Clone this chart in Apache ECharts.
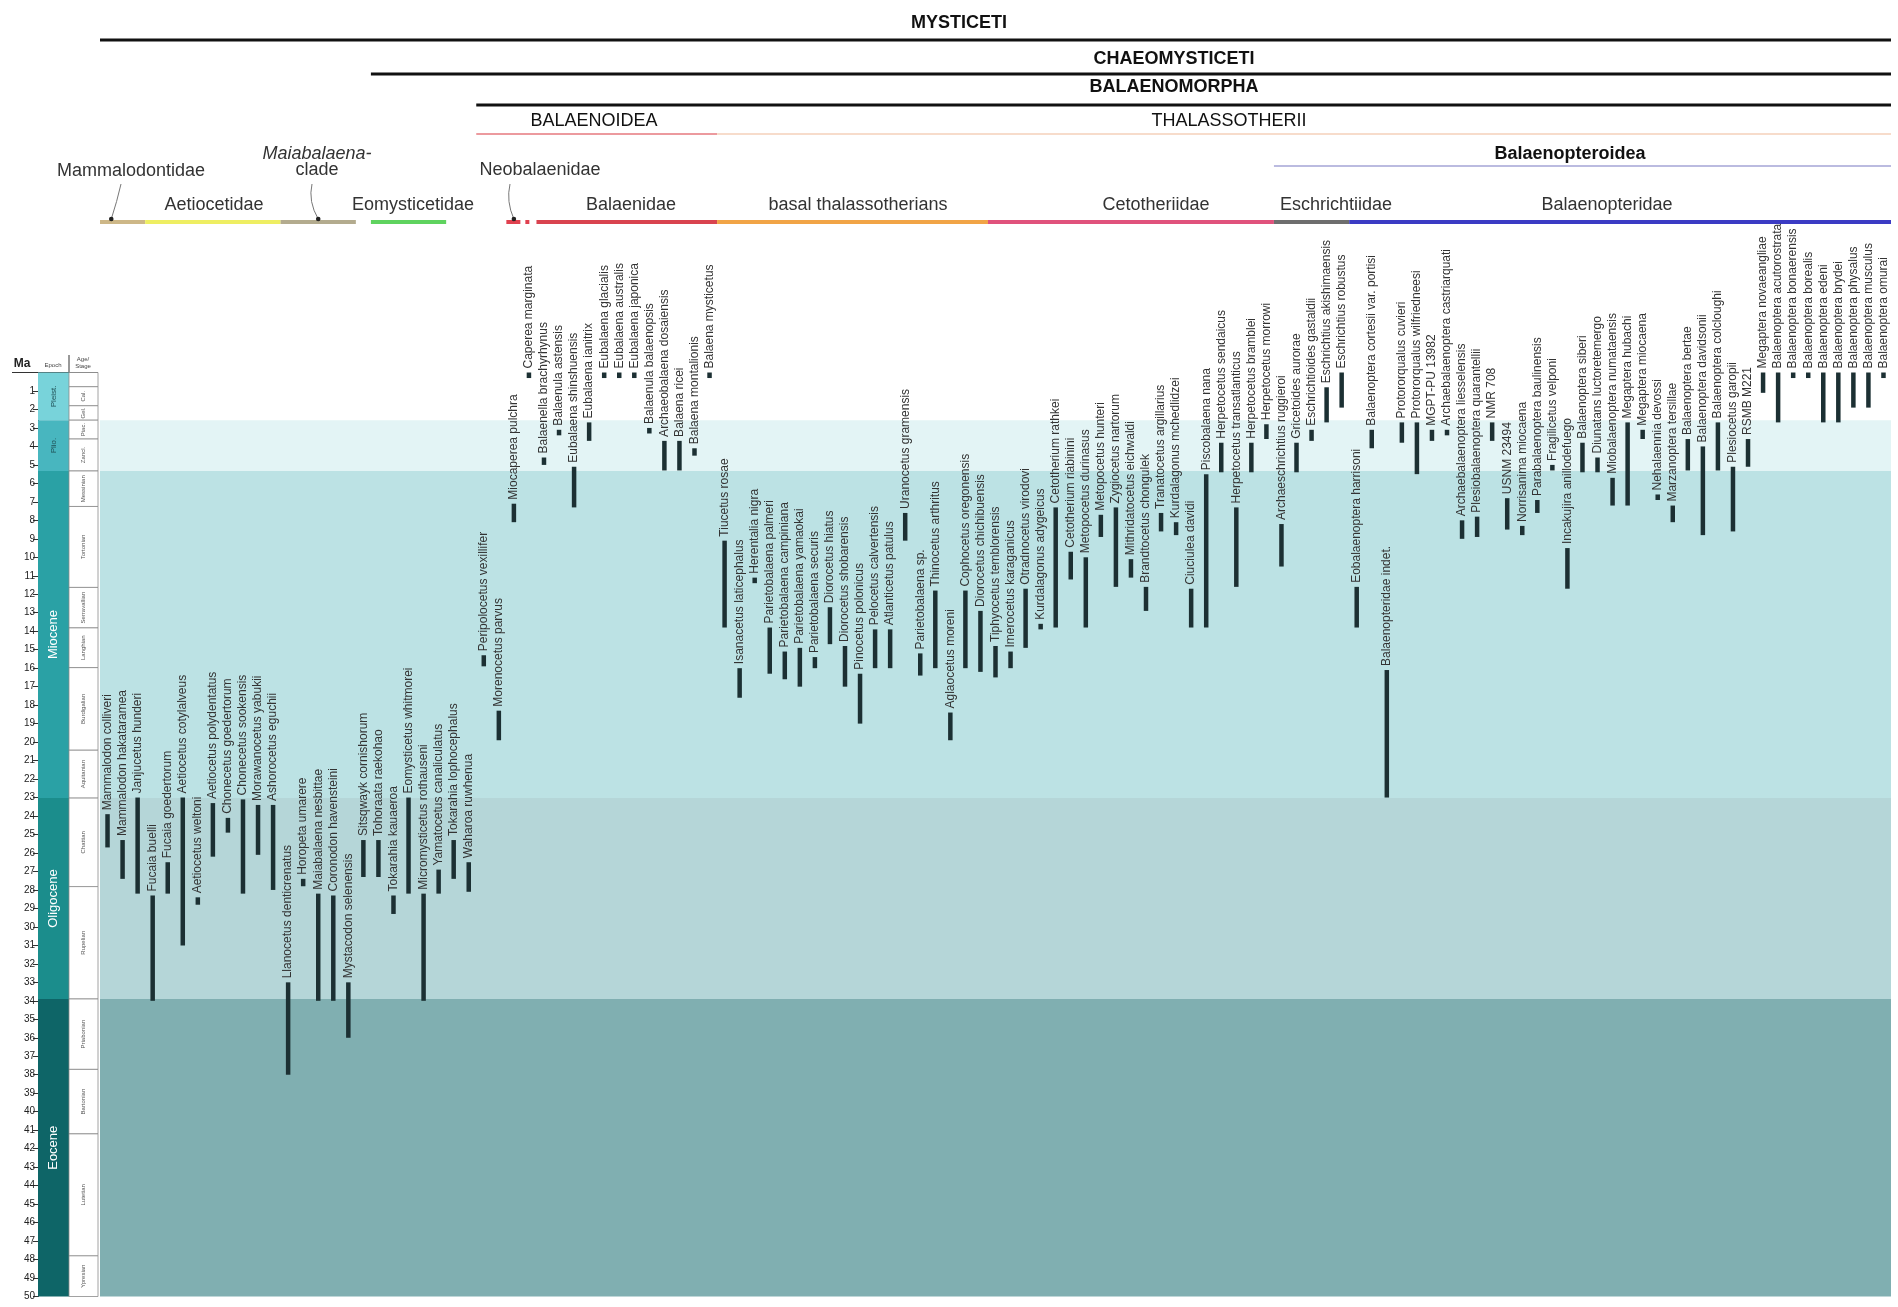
<!DOCTYPE html>
<html>
<head>
<meta charset="utf-8">
<script src="https://cdn.jsdelivr.net/npm/echarts@6/dist/echarts.min.js"></script>
<style>
html,body{margin:0;padding:0;background:#fff;}
#chart{width:1898px;height:1307px;}
</style>
</head>
<body>
<div id="chart"></div>
<script>
// ---- Taxa and their stratigraphic ranges (Ma) ----
const taxa = [
'Mammalodon colliveri','Mammalodon hakataramea','Janjucetus hunderi','Fucaia buelli','Fucaia goedertorum',
'Aetiocetus cotylalveus','Aetiocetus weltoni','Aetiocetus polydentatus','Chonecetus goedertorum','Chonecetus sookensis',
'Morawanocetus yabukii','Ashorocetus eguchii','Llanocetus denticrenatus','Horopeta umarere','Maiabalaena nesbittae',
'Coronodon havensteini','Mystacodon selenensis','Sitsqwayk cornishorum','Tohoraata raekohao','Tokarahia kauaeroa',
'Eomysticetus whitmorei','Micromysticetus rothauseni','Yamatocetus canaliculatus','Tokarahia lophocephalus','Waharoa ruwhenua',
'Peripolocetus vexillifer','Morenocetus parvus','Miocaperea pulchra','Caperea marginata','Balaenella brachyrhynus',
'Balaenula astensis','Eubalaena shinshuensis','Eubalaena ianitrix','Eubalaena glacialis','Eubalaena australis',
'Eubalaena japonica','Balaenula balaenopsis','Archaeobalaena dosaiensis','Balaena ricei','Balaena montalionis',
'Balaena mysticetus','Tiucetus rosae','Isanacetus laticephalus','Herentalia nigra','Parietobalaena palmeri',
'Parietobalaena campiniana','Parietobalaena yamaokai','Parietobalaena securis','Diorocetus hiatus','Diorocetus shobarensis',
'Pinocetus polonicus','Pelocetus calvertensis','Atlanticetus patulus','Uranocetus gramensis','Parietobalaena sp.',
'Thinocetus arthritus','Aglaocetus moreni','Cophocetus oregonensis','Diorocetus chichibuensis','Tiphyocetus temblorensis',
'Imerocetus karaganicus','Otradnocetus virodovi','Kurdalagonus adygeicus','Cetotherium rathkei','Cetotherium riabinini',
'Metopocetus durinasus','Metopocetus hunteri','Zygiocetus nartorum','Mithridatocetus eichwaldi','Brandtocetus chongulek',
'Tranatocetus argillarius','Kurdalagonus mchedlidzei','Ciuciulea davidi','Piscobalaena nana','Herpetocetus sendaicus',
'Herpetocetus transatlanticus','Herpetocetus bramblei','Herpetocetus morrowi','Archaeschrichtius ruggieroi','Gricetoides aurorae',
'Eschrichtioides gastaldii','Eschrichtius akishimaensis','Eschrichtius robustus','Eobalaenoptera harrisoni','Balaenoptera cortesii var. portisi',
'Balaenopteridae indet.','Protororqualus cuvieri','Protororqualus wilfriedneesi','MGPT-PU 13982','Archaebalaenoptera castriarquati',
'Archaebalaenoptera liesselensis','Plesiobalaenoptera quarantellii','NMR 708','USNM 23494','Norrisanima miocaena',
'Parabalaenoptera baulinensis','Fragilicetus velponi','Incakujira anillodefuego','Balaenoptera siberi','Diunatans luctoretemergo',
'Miobalaenoptera numataensis','Megaptera hubachi','Megaptera miocaena','Nehalaennia devossi','Marzanoptera tersillae',
'Balaenoptera bertae','Balaenoptera davidsonii','Balaenoptera colcloughi','Plesiocetus garopii','RSMB M221',
'Megaptera novaeangliae','Balaenoptera acutorostrata','Balaenoptera bonaerensis','Balaenoptera borealis','Balaenoptera edeni',
'Balaenoptera brydei','Balaenoptera physalus','Balaenoptera musculus','Balaenoptera omurai'
];

// youngest occurrence (top of range), Ma
const youngestMa = [
23.9,25.3,23.0,28.3,26.5,23.0,28.4,23.3,24.1,23.1,
23.4,23.4,33.0,27.4,28.2,28.3,33.0,25.3,25.3,28.3,
23.0,28.2,26.9,25.3,26.5,15.3,18.3,7.1,0,4.6,
3.1,5.1,2.7,0,0,0,3.0,3.7,3.7,4.1,
0,9.1,16.0,11.1,13.8,15.1,14.9,15.4,12.7,14.8,
16.3,13.9,13.9,7.6,15.2,11.8,18.4,11.8,12.9,14.8,
15.1,11.7,13.6,7.3,9.7,10.0,7.7,7.3,10.1,11.6,
7.6,8.1,11.7,5.5,3.8,7.3,3.8,2.8,8.2,3.8,
3.1,0.8,0,11.6,3.1,16.1,2.7,2.7,3.1,3.1,
8.0,7.8,2.7,6.8,8.3,6.9,5.0,9.5,3.8,4.6,
5.7,2.7,3.1,6.6,7.2,3.6,4.0,2.7,5.1,3.6,
0,0,0,0,0,0,0,0,0
];

// oldest occurrence (base of range), Ma
const oldestMa = [
25.7,27.4,28.2,34.0,28.2,31.0,28.8,26.2,24.9,28.2,
26.1,28.0,38.0,27.8,34.0,34.0,36.0,27.3,27.3,29.3,
28.2,34.0,28.2,27.4,28.1,15.9,19.9,8.1,0.3,5.0,
3.4,7.3,3.7,0.3,0.3,0.3,3.3,5.3,5.3,4.5,
0.3,13.8,17.6,11.4,16.3,16.6,17.0,16.0,14.7,17.0,
19.0,16.0,16.0,9.1,16.4,16.0,19.9,16.0,16.2,16.5,
16.0,14.9,13.9,13.8,11.2,13.8,8.9,11.6,11.1,12.9,
8.6,8.8,13.8,13.8,5.4,11.6,5.4,3.6,10.5,5.4,
3.7,2.7,1.9,13.8,4.1,23.0,3.8,5.5,3.7,3.4,
9.0,8.9,3.7,8.5,8.8,7.6,5.3,11.7,5.4,5.4,
7.2,7.2,3.6,6.9,8.1,5.3,8.8,5.3,8.6,5.1,
1.1,2.7,0.3,0.3,2.7,2.7,1.9,1.9,0.3
];

// ---- Geological time scale ----
const epochNames = ['Pleist.','Plio.','Miocene','Oligocene','Eocene'];
const epochBase = [2.58,5.33,23.03,33.9,50];
const epochTop = [0,2.58,5.33,23.03,33.9];

const stageNames = ['','Cal.','Gel.','Piac.','Zancl.','Messinian','Tortonian','Serravallian','Langhian','Burdigalian','Aquitanian','Chattian','Rupelian','Priabonian','Bartonian','Lutetian','Ypresian'];
const stageTop  = [0,0.77,1.8,2.58,3.6,5.33,7.25,11.63,13.82,15.97,20.44,23.03,27.82,33.9,37.71,41.2,47.8];
const stageBase = [0.77,1.8,2.58,3.6,5.33,7.25,11.63,13.82,15.97,20.44,23.03,27.82,33.9,37.71,41.2,47.8,50];

// ---- Groupings (by taxon index, first..last) ----
const familyNames = ['Mammalodontidae','Aetiocetidae','Maiabalaena-clade','Eomysticetidae','Neobalaenidae','Balaenidae','basal thalassotherians','Cetotheriidae','Eschrichtiidae','Balaenopteridae'];
const familyFirst = [0,3,12,18,27,29,41,59,78,83];
const familyLast  = [2,11,16,22,28,40,58,77,82,118];

const cladeNames = ['MYSTICETI','CHAEOMYSTICETI','BALAENOMORPHA','BALAENOIDEA','THALASSOTHERII','Balaenopteroidea'];
const cladeFirst = [0,18,25,25,41,78];
const cladeLast  = [118,118,118,40,118,118];

// ---- Styling ----
const FONT = '"Liberation Sans", Arial, Helvetica, sans-serif';
const STYLE = {
  bar: '#1c3033',
  barWidth: 4.5,
  label: '#333',
  labelFont: '12px ' + FONT,
  band: ['#ffffff','#e3f4f5','#bce2e4','#b5d6d8','#80afb1'],
  epochFill: ['#78d3da','#48b6bf','#2aa1a5','#1b8d8c','#0e6567'],
  epochText: ['#1f4f55','#1f4f55','#ffffff','#ffffff','#ffffff'],
  family: {
    'Mammalodontidae':'#cdb787','Aetiocetidae':'#eeee62','Maiabalaena-clade':'#b3ab8e','Eomysticetidae':'#5fd35f',
    'Neobalaenidae':'#e0414f','Balaenidae':'#d9434f','basal thalassotherians':'#f1a446','Cetotheriidae':'#e0527c',
    'Eschrichtiidae':'#6e6e6e','Balaenopteridae':'#3b3bc4'
  },
  clade: {
    'MYSTICETI':{color:'#111',w:3,y:40,ty:23,tx:959,bold:true},
    'CHAEOMYSTICETI':{color:'#111',w:3,y:74,ty:59,tx:1174,bold:true},
    'BALAENOMORPHA':{color:'#111',w:3,y:105,ty:87,tx:1174,bold:true},
    'BALAENOIDEA':{color:'#ec9a9e',w:2,y:134,ty:121,tx:594,bold:false},
    'THALASSOTHERII':{color:'#f7dccb',w:2,y:134,ty:121,tx:1229,bold:false},
    'Balaenopteroidea':{color:'#a5a5d6',w:1.5,y:166,ty:154,tx:1570,bold:true}
  },
  familyLabelX: {'Aetiocetidae':214,'Eomysticetidae':413,'Balaenidae':631,'basal thalassotherians':858,
                 'Cetotheriidae':1156,'Eschrichtiidae':1336,'Balaenopteridae':1607},
  familyLabelY: 205,
  familyBarY: 222
};

const GRID = {left:100, right:7, top:372.5, bottom:10.5};

const chart = echarts.init(document.getElementById('chart'));

const yBase = {type:'value', inverse:true, min:0, max:50, interval:1};

const option = {
  animation:false,
  backgroundColor:'#ffffff',
  grid:[
    {left:GRID.left, right:GRID.right, top:GRID.top, bottom:GRID.bottom},
    {left:38, width:31, top:GRID.top, bottom:GRID.bottom},
    {left:69, width:29, top:GRID.top, bottom:GRID.bottom}
  ],
  xAxis:[
    {type:'category', gridIndex:0, data:taxa, show:false},
    {type:'value', gridIndex:1, min:0, max:1, show:false},
    {type:'value', gridIndex:2, min:0, max:1, show:false}
  ],
  yAxis:[
    Object.assign({gridIndex:0, show:false}, yBase),
    Object.assign({gridIndex:1, position:'left',
      axisLine:{show:true, lineStyle:{color:'#333', width:1}},
      axisTick:{show:true, length:5, lineStyle:{color:'#333'}},
      axisLabel:{margin:3, fontSize:10, color:'#222', fontFamily:FONT,
        formatter:v => v === 0 ? '' : String(v)},
      splitLine:{show:false}}, yBase),
    Object.assign({gridIndex:2, show:false}, yBase)
  ],
  series:[
    // epoch background bands across the range chart
    {
      type:'custom', xAxisIndex:0, yAxisIndex:0, silent:true, z:1,
      data: epochNames.map((n,i) => [0, epochTop[i], epochBase[i], i]),
      encode:{x:0, y:[1,2]},
      renderItem(params, api){
        const cs = params.coordSys;
        const y1 = api.coord([0, api.value(1)])[1];
        const y2 = api.coord([0, api.value(2)])[1];
        return {type:'rect', shape:{x:cs.x, y:y1, width:cs.width, height:y2-y1},
                style:{fill:STYLE.band[api.value(3)]}};
      }
    },
    // taxon range bars with rotated names
    {
      type:'custom', xAxisIndex:0, yAxisIndex:0, silent:true, z:5, clip:false,
      data: taxa.map((n,i) => [i, youngestMa[i], oldestMa[i]]),
      encode:{x:0, y:[1,2]},
      renderItem(params, api){
        const i = api.value(0);
        const top = api.coord([i, api.value(1)]);
        const base = api.coord([i, api.value(2)]);
        const w = STYLE.barWidth;
        return {type:'group', children:[
          {type:'rect', shape:{x:top[0]-w/2, y:top[1], width:w, height:Math.max(base[1]-top[1], 3)},
           style:{fill:STYLE.bar}},
          {type:'text', x:top[0], y:top[1]-4, rotation:Math.PI/2,
           style:{text:taxa[i], font:STYLE.labelFont, fill:STYLE.label, align:'left', verticalAlign:'middle'}}
        ]};
      }
    },
    // epoch column
    {
      type:'custom', xAxisIndex:1, yAxisIndex:1, silent:true, z:3,
      data: epochNames.map((n,i) => [0, epochTop[i], epochBase[i], i]),
      encode:{x:0, y:[1,2]},
      renderItem(params, api){
        const cs = params.coordSys;
        const k = api.value(3);
        const y1 = api.coord([0, api.value(1)])[1];
        const y2 = api.coord([0, api.value(2)])[1];
        const big = k >= 2;
        return {type:'group', children:[
          {type:'rect', shape:{x:cs.x, y:y1, width:cs.width, height:y2-y1}, style:{fill:STYLE.epochFill[k]}},
          {type:'text', x:cs.x+cs.width/2, y:(y1+y2)/2, rotation:Math.PI/2,
           style:{text:epochNames[k], align:'center', verticalAlign:'middle',
                  fill:STYLE.epochText[k], font:(big ? '13px ' : '8px ') + FONT}}
        ]};
      }
    },
    // age / stage column
    {
      type:'custom', xAxisIndex:2, yAxisIndex:2, silent:true, z:3,
      data: stageNames.map((n,i) => [0, stageTop[i], stageBase[i], i]),
      encode:{x:0, y:[1,2]},
      renderItem(params, api){
        const cs = params.coordSys;
        const k = api.value(3);
        const y1 = api.coord([0, api.value(1)])[1];
        const y2 = api.coord([0, api.value(2)])[1];
        return {type:'group', children:[
          {type:'rect', shape:{x:cs.x, y:y1, width:cs.width, height:y2-y1},
           style:{fill:'#ffffff', stroke:'#8a8a8a', lineWidth:0.8}},
          {type:'text', x:cs.x+cs.width/2, y:(y1+y2)/2, rotation:Math.PI/2,
           style:{text:stageNames[k], align:'center', verticalAlign:'middle', fill:'#555', font:'6px ' + FONT}}
        ]};
      }
    }
  ]
};

chart.setOption(option);

// ---- Clade and family headers, placed on the taxon axis ----
const band = (chart.getWidth() - GRID.left - GRID.right) / taxa.length;
const xAt = i => chart.convertToPixel({xAxisIndex:0}, i);
const leftEdge = i => xAt(i) - band/2;
const rightEdge = i => xAt(i) + band/2;

const g = [];
const text = (t, x, y, opts) => g.push(Object.assign({type:'text', x, y, silent:true,
  style:Object.assign({text:t, align:'center', verticalAlign:'middle', fill:'#222', font:'18px ' + FONT}, opts || {})}));

cladeNames.forEach((name, k) => {
  const s = STYLE.clade[name];
  g.push({type:'line', silent:true,
    shape:{x1:leftEdge(cladeFirst[k]), y1:s.y, x2:rightEdge(cladeLast[k]), y2:s.y},
    style:{stroke:s.color, lineWidth:s.w}});
  text(name, s.tx, s.ty, {font:(s.bold ? 'bold ' : '') + '18px ' + FONT, fill:'#111'});
});

familyNames.forEach((name, k) => {
  const x1 = leftEdge(familyFirst[k]), x2 = rightEdge(familyLast[k]);
  const line = {type:'line', silent:true,
    shape:{x1, y1:STYLE.familyBarY, x2, y2:STYLE.familyBarY},
    style:{stroke:STYLE.family[name], lineWidth:4}};
  if (name === 'Neobalaenidae') line.style.lineDash = [14, 5, 4, 40];
  g.push(line);
  if (STYLE.familyLabelX[name] !== undefined) {
    text(name, STYLE.familyLabelX[name], STYLE.familyLabelY, {font:'18px ' + FONT, fill:'#333'});
  }
});

// labels with pointers for the small groups
const pointer = (x1, y1, x2, y2) => {
  g.push({type:'bezierCurve', silent:true,
    shape:{x1, y1, x2, y2, cpx1:x1-4, cpy1:(y1+y2)/2}, style:{stroke:'#777', lineWidth:1, fill:null}});
  g.push({type:'circle', silent:true, shape:{cx:x2, cy:y2, r:2.3}, style:{fill:'#222'}});
};
text('Mammalodontidae', 131, 171, {font:'18px ' + FONT, fill:'#333'});
pointer(121, 184, (leftEdge(0)+xAt(1))/2, 219);
text('Maiabalaena-', 317, 154, {font:'italic 18px ' + FONT, fill:'#333'});
text('clade', 317, 170, {font:'18px ' + FONT, fill:'#333'});
pointer(312, 184, xAt(14), 219);
text('Neobalaenidae', 540, 170, {font:'18px ' + FONT, fill:'#333'});
pointer(510, 184, xAt(27), 219);

// header of the time-scale columns
text('Ma', 22, 364, {font:'bold 12px ' + FONT, fill:'#222'});
text('Epoch', 53, 365, {font:'6px ' + FONT, fill:'#444'});
text('Age/\nStage', 83, 363, {font:'6px ' + FONT, fill:'#444', lineHeight:7});
g.push({type:'line', silent:true, shape:{x1:12, y1:GRID.top, x2:98, y2:GRID.top}, style:{stroke:'#333', lineWidth:1.2}});
g.push({type:'line', silent:true, shape:{x1:69, y1:355, x2:69, y2:GRID.top}, style:{stroke:'#333', lineWidth:1}});

chart.setOption({graphic:{elements:g}});
</script>
</body>
</html>
